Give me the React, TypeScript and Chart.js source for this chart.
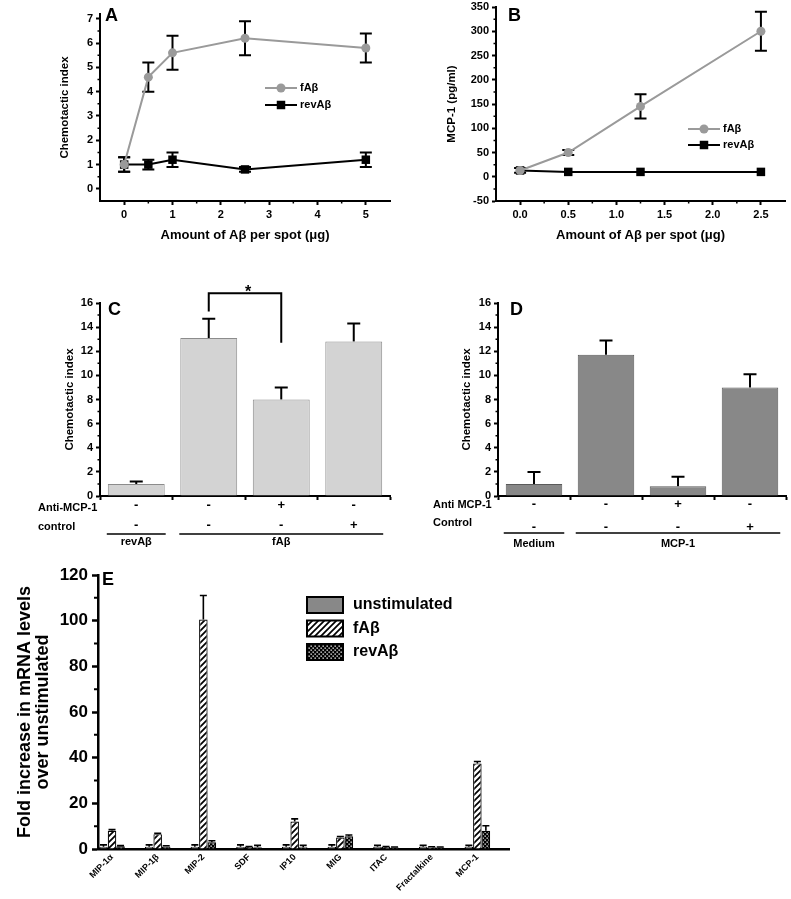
import React, { useEffect, useRef } from 'react';
import { Chart, registerables } from 'chart.js';

Chart.register(...registerables);

const FONT = '"Liberation Sans", Arial, Helvetica, sans-serif';
const f = (size: number, weight: any = 'bold', lineHeight?: number) =>
  lineHeight ? { family: FONT, size, weight, lineHeight } : { family: FONT, size, weight };

// ---------------- Panel A ----------------
const doseA = [0, 0.5, 1, 2.5, 5];
const fAbA = [1.0, 4.6, 5.6, 6.2, 5.8];
const fAbAErr = [0.3, 0.6, 0.7, 0.7, 0.6];
const revA = [1.0, 1.0, 1.2, 0.8, 1.2];
const revAErr = [0.3, 0.2, 0.3, 0.1, 0.3];
const xTicksA = [0, 1, 2, 3, 4, 5];
const xMinorA = [0.5, 1.5, 2.5, 3.5, 4.5];
const yTicksA = [0, 1, 2, 3, 4, 5, 6, 7];
const yMinorA = [0.5, 1.5, 2.5, 3.5, 4.5, 5.5, 6.5];

// ---------------- Panel B ----------------
const doseB = [0, 0.5, 1.25, 2.5];
const fAbB = [13, 50, 145, 300];
const fAbBErr = [5, 5, 25, 40];
const revB = [13, 10, 10, 10];
const revBErr = [0, 0, 0, 0];
const xTicksB = [0, 0.5, 1, 1.5, 2, 2.5];
const xMinorB = [0.25, 0.75, 1.25, 1.75, 2.25];
const yTicksB = [-50, 0, 50, 100, 150, 200, 250, 300, 350];
const yMinorB = [-25, 25, 75, 125, 175, 225, 275, 325];

// ---------------- Panel C ----------------
const catsC = ['revAβ', 'fAβ', 'fAβ + Anti-MCP-1', 'fAβ + control'];
const valuesC = [1.0, 13.1, 8.0, 12.8];
const errC = [0.2, 1.6, 1.0, 1.5];
const antiC = ['-', '-', '+', '-'];
const controlC = ['-', '-', '-', '+'];
const groupsC = [
  { label: 'revAβ', from: 0, to: 0 },
  { label: 'fAβ', from: 1, to: 3 },
];
const sigC = { from: 1, to: 2, top: 16.8, leftEnd: 15.3, rightEnd: 12.7, text: '*' };
const yTicksCD = [0, 2, 4, 6, 8, 10, 12, 14, 16];
const yMinorCD = [1, 3, 5, 7, 9, 11, 13, 15];

// ---------------- Panel D ----------------
const catsD = ['Medium', 'MCP-1', 'MCP-1 + Anti MCP-1', 'MCP-1 + Control'];
const valuesD = [1.0, 11.7, 0.8, 9.0];
const errD = [1.0, 1.2, 0.8, 1.1];
const antiD = ['-', '-', '+', '-'];
const controlD = ['-', '-', '-', '+'];
const groupsD = [
  { label: 'Medium', from: 0, to: 0 },
  { label: 'MCP-1', from: 1, to: 3 },
];

// ---------------- Panel E ----------------
const genesE = ['MIP-1α', 'MIP-1β', 'MIP-2', 'SDF', 'IP10', 'MIG', 'ITAC', 'Fractalkine', 'MCP-1'];
const unstimE = [1, 1, 1, 1, 1, 1, 1, 1, 1];
const unstimErrE = [0.8, 0.8, 0.8, 0.8, 0.8, 0.8, 0.6, 0.6, 0.6];
const fAbE = [8.0, 6.5, 100.5, 0.9, 12.0, 5.0, 0.9, 0.8, 37.5];
const fAbErrE = [0.5, 0.4, 10.5, 0.2, 1.2, 0.5, 0.2, 0.2, 0.8];
const revE = [1.2, 1.1, 3.0, 0.8, 0.8, 5.6, 0.7, 0.7, 8.0];
const revErrE = [0.3, 0.3, 0.6, 0.8, 0.8, 0.5, 0.2, 0.2, 2.2];
const yTicksE = [0, 20, 40, 60, 80, 100, 120];
const yMinorE = [10, 30, 50, 70, 90, 110];

// ---------------- plugins ----------------
function errorBarsPlugin() {
  return {
    id: 'errorBars',
    beforeDatasetsDraw(chart: any) {
      const ctx = chart.ctx;
      chart.data.datasets.forEach((ds: any, di: number) => {
        const errs = ds.errorBars;
        if (!errs) return;
        const meta = chart.getDatasetMeta(di);
        const ys = chart.scales[meta.yAxisID];
        const cap = ds.errorCap || 12;
        ctx.save();
        ctx.strokeStyle = '#000';
        ctx.lineWidth = ds.errorWidth || 2;
        meta.data.forEach((el: any, i: number) => {
          const e = errs[i];
          if (!e) return;
          const raw = ds.data[i];
          const v = typeof raw === 'number' ? raw : raw.y;
          const yTop = ys.getPixelForValue(v + e);
          const yBot = ds.errorMode === 'up' ? ys.getPixelForValue(v) : ys.getPixelForValue(v - e);
          ctx.beginPath();
          ctx.moveTo(el.x, yTop);
          ctx.lineTo(el.x, yBot);
          ctx.moveTo(el.x - cap / 2, yTop);
          ctx.lineTo(el.x + cap / 2, yTop);
          if (ds.errorMode !== 'up') {
            ctx.moveTo(el.x - cap / 2, yBot);
            ctx.lineTo(el.x + cap / 2, yBot);
          }
          ctx.stroke();
        });
        ctx.restore();
      });
    },
  };
}

function minorTicksPlugin(xs: number[], ys: number[], len: number, width: number) {
  return {
    id: 'minorTicks',
    afterDraw(chart: any) {
      const { ctx, chartArea, scales } = chart;
      ctx.save();
      ctx.strokeStyle = '#000';
      ctx.lineWidth = width;
      ctx.beginPath();
      xs.forEach((v) => {
        const px = scales.x.getPixelForValue(v);
        ctx.moveTo(px, chartArea.bottom);
        ctx.lineTo(px, chartArea.bottom + len);
      });
      ys.forEach((v) => {
        const py = scales.y.getPixelForValue(v);
        ctx.moveTo(chartArea.left, py);
        ctx.lineTo(chartArea.left - len, py);
      });
      ctx.stroke();
      ctx.restore();
    },
  };
}

function textPlugin(items: any[]) {
  return {
    id: 'texts',
    afterDraw(chart: any) {
      const ctx = chart.ctx;
      ctx.save();
      ctx.fillStyle = '#000';
      items.forEach((t) => {
        ctx.font = `bold ${t.size}px ${FONT}`;
        ctx.textAlign = t.align || 'left';
        ctx.textBaseline = t.baseline || 'alphabetic';
        ctx.fillText(t.text, t.x, t.y);
      });
      ctx.restore();
    },
  };
}

function lineLegendPlugin(x: number, y: number, dy: number, len: number, size: number) {
  return {
    id: 'lineLegend',
    afterDraw(chart: any) {
      const ctx = chart.ctx;
      ctx.save();
      chart.data.datasets.forEach((ds: any, i: number) => {
        const yc = y + i * dy;
        ctx.strokeStyle = ds.borderColor;
        ctx.lineWidth = ds.borderWidth;
        ctx.beginPath();
        ctx.moveTo(x, yc);
        ctx.lineTo(x + len, yc);
        ctx.stroke();
        ctx.fillStyle = ds.backgroundColor;
        const cx = x + len / 2;
        if (ds.pointStyle === 'rect') {
          const s = ds.pointRadius * Math.SQRT1_2;
          ctx.fillRect(cx - s, yc - s, 2 * s, 2 * s);
        } else {
          ctx.beginPath();
          ctx.arc(cx, yc, ds.pointRadius, 0, Math.PI * 2);
          ctx.fill();
        }
        ctx.fillStyle = '#000';
        ctx.font = `bold ${size}px ${FONT}`;
        ctx.textAlign = 'left';
        ctx.textBaseline = 'middle';
        ctx.fillText(ds.label, x + len + 3, yc);
      });
      ctx.restore();
    },
  };
}

function rowsPlugin(o: any) {
  return {
    id: 'rows',
    afterDraw(chart: any) {
      const ctx = chart.ctx;
      const xs = chart.scales.x;
      const meta = chart.getDatasetMeta(0);
      ctx.save();
      ctx.fillStyle = '#000';
      ctx.textBaseline = 'middle';
      o.rows.forEach((r: any) => {
        ctx.font = `bold ${o.titleSize}px ${FONT}`;
        ctx.textAlign = 'left';
        ctx.fillText(r.title, o.titleX, r.titleY);
        ctx.font = `bold ${o.markSize}px ${FONT}`;
        ctx.textAlign = 'center';
        r.values.forEach((t: string, i: number) => ctx.fillText(t, xs.getPixelForValue(i), r.markY));
      });
      ctx.strokeStyle = '#000';
      ctx.lineWidth = o.lineWidth;
      o.groups.forEach((g: any) => {
        const a = meta.data[g.from];
        const b = meta.data[g.to];
        const x0 = a.x - a.width / 2 - o.ext;
        const x1 = b.x + b.width / 2 + o.ext;
        ctx.beginPath();
        ctx.moveTo(x0, o.lineY);
        ctx.lineTo(x1, o.lineY);
        ctx.stroke();
        ctx.font = `bold ${o.groupSize}px ${FONT}`;
        ctx.textAlign = 'center';
        ctx.fillText(g.label, (x0 + x1) / 2, o.labelY);
      });
      ctx.restore();
    },
  };
}

function sigPlugin(s: any) {
  return {
    id: 'sig',
    afterDraw(chart: any) {
      const ctx = chart.ctx;
      const meta = chart.getDatasetMeta(0);
      const ys = chart.scales.y;
      const xa = meta.data[s.from].x;
      const xb = meta.data[s.to].x;
      const yt = ys.getPixelForValue(s.top);
      ctx.save();
      ctx.strokeStyle = '#000';
      ctx.lineWidth = 2;
      ctx.beginPath();
      ctx.moveTo(xa, ys.getPixelForValue(s.leftEnd));
      ctx.lineTo(xa, yt);
      ctx.lineTo(xb, yt);
      ctx.lineTo(xb, ys.getPixelForValue(s.rightEnd));
      ctx.stroke();
      ctx.fillStyle = '#000';
      ctx.font = `bold 16px ${FONT}`;
      ctx.textAlign = 'center';
      ctx.textBaseline = 'alphabetic';
      ctx.fillText(s.text, (xa + xb) / 2 + 3, yt + 4);
      ctx.restore();
    },
  };
}

function boxLegendPlugin(x: number, y0: number, dy: number, w: number, h: number, textX: number, size: number) {
  return {
    id: 'boxLegend',
    afterDraw(chart: any) {
      const ctx = chart.ctx;
      ctx.save();
      chart.data.datasets.forEach((ds: any, i: number) => {
        const yc = y0 + i * dy;
        ctx.fillStyle = ds.backgroundColor;
        ctx.fillRect(x, yc - h / 2, w, h);
        ctx.strokeStyle = '#000';
        ctx.lineWidth = 2;
        ctx.strokeRect(x, yc - h / 2, w, h);
        ctx.fillStyle = '#000';
        ctx.font = `bold ${size}px ${FONT}`;
        ctx.textAlign = 'left';
        ctx.textBaseline = 'middle';
        ctx.fillText(ds.label, textX, yc);
      });
      ctx.restore();
    },
  };
}

function hatchPattern() {
  const c = document.createElement('canvas');
  c.width = 6;
  c.height = 6;
  const g = c.getContext('2d') as CanvasRenderingContext2D;
  g.fillStyle = '#fff';
  g.fillRect(0, 0, 6, 6);
  g.strokeStyle = '#000';
  g.lineWidth = 1.7;
  g.beginPath();
  g.moveTo(-1, 7);
  g.lineTo(7, -1);
  g.moveTo(-4, 4);
  g.lineTo(4, -4);
  g.moveTo(2, 10);
  g.lineTo(10, 2);
  g.stroke();
  return g.createPattern(c, 'repeat');
}

function dotPattern() {
  const c = document.createElement('canvas');
  c.width = 4;
  c.height = 4;
  const g = c.getContext('2d') as CanvasRenderingContext2D;
  g.fillStyle = '#000';
  g.fillRect(0, 0, 4, 4);
  g.fillStyle = '#fff';
  g.fillRect(0.5, 0.5, 1.3, 1.3);
  g.fillRect(2.5, 2.5, 1.3, 1.3);
  return g.createPattern(c, 'repeat');
}

// ---------------- helpers ----------------
const base = (padding: any) => ({
  responsive: false,
  maintainAspectRatio: false,
  animation: false,
  events: [],
  layout: { padding },
  plugins: { legend: { display: false }, tooltip: { enabled: false } },
});

function yAxis(o: any) {
  return {
    type: 'linear',
    min: o.min,
    max: o.max,
    afterBuildTicks: (s: any) => {
      s.ticks = o.ticks.map((v: number) => ({ value: v }));
    },
    afterFit: (s: any) => {
      s.width = o.width;
    },
    grid: { drawOnChartArea: false, drawTicks: true, tickLength: o.tickLen, tickWidth: o.lineW, tickColor: '#000' },
    border: { display: true, color: '#000', width: o.lineW },
    ticks: { color: '#000', font: f(o.fontSize), padding: o.pad ?? 3 },
    title: {
      display: true,
      text: o.title,
      color: '#000',
      font: o.titleFont,
      padding: { top: o.titlePad, bottom: 0 },
    },
  };
}

function xLinear(o: any) {
  return {
    type: 'linear',
    min: o.min,
    max: o.max,
    afterBuildTicks: (s: any) => {
      s.ticks = o.ticks.map((v: number) => ({ value: v }));
    },
    afterFit: (s: any) => {
      s.height = o.height;
    },
    grid: { drawOnChartArea: false, drawTicks: true, tickLength: 4, tickWidth: 2, tickColor: '#000' },
    border: { display: true, color: '#000', width: 2 },
    ticks: { color: '#000', font: f(11), padding: 3, callback: o.fmt },
    title: { display: true, text: o.title, color: '#000', font: f(13), padding: { top: 0, bottom: 7.2 } },
  };
}

function ChartCanvas({ x, y, w, h, build }: { x: number; y: number; w: number; h: number; build: () => any }) {
  const ref = useRef<HTMLCanvasElement | null>(null);
  useEffect(() => {
    const chart = new Chart(ref.current as HTMLCanvasElement, build());
    return () => chart.destroy();
  }, []);
  return (
    <canvas ref={ref} width={w} height={h} style={{ position: 'absolute', left: x, top: y, width: w, height: h }} />
  );
}

// ---------------- chart builders ----------------
const buildA = () => ({
  type: 'line',
  data: {
    datasets: [
      {
        label: 'fAβ',
        data: doseA.map((x, i) => ({ x, y: fAbA[i] })),
        borderColor: '#9a9a9a',
        backgroundColor: '#9a9a9a',
        borderWidth: 2,
        pointStyle: 'circle',
        pointRadius: 4.5,
        pointBorderWidth: 0,
        tension: 0,
        errorBars: fAbAErr,
        errorCap: 12,
      },
      {
        label: 'revAβ',
        data: doseA.map((x, i) => ({ x, y: revA[i] })),
        borderColor: '#000',
        backgroundColor: '#000',
        borderWidth: 2,
        pointStyle: 'rect',
        pointRadius: 6,
        pointBorderWidth: 0,
        tension: 0,
        errorBars: revAErr,
        errorCap: 12,
      },
    ],
  },
  options: {
    ...base({ left: 0, right: 1, top: 14, bottom: 0 }),
    scales: {
      x: xLinear({ min: -0.5, max: 5.5, ticks: xTicksA, height: 49, title: 'Amount of Aβ per spot (μg)' }),
      y: yAxis({
        min: -0.5,
        max: 7.2,
        ticks: yTicksA,
        width: 100,
        tickLen: 4,
        lineW: 2,
        fontSize: 11,
        title: 'Chemotactic index',
        titleFont: f(11.5),
        titlePad: 58,
      }),
    },
  },
  plugins: [
    errorBarsPlugin(),
    minorTicksPlugin(xMinorA, yMinorA, 2.5, 1.5),
    lineLegendPlugin(265, 88, 17, 32, 11),
    textPlugin([{ text: 'A', x: 105, y: 21, size: 18 }]),
  ],
});

const buildB = () => ({
  type: 'line',
  data: {
    datasets: [
      {
        label: 'fAβ',
        data: doseB.map((x, i) => ({ x, y: fAbB[i] })),
        borderColor: '#9a9a9a',
        backgroundColor: '#9a9a9a',
        borderWidth: 2,
        pointStyle: 'circle',
        pointRadius: 4.5,
        pointBorderWidth: 0,
        tension: 0,
        errorBars: fAbBErr,
        errorCap: 12,
      },
      {
        label: 'revAβ',
        data: doseB.map((x, i) => ({ x, y: revB[i] })),
        borderColor: '#000',
        backgroundColor: '#000',
        borderWidth: 2,
        pointStyle: 'rect',
        pointRadius: 6,
        pointBorderWidth: 0,
        tension: 0,
        errorBars: revBErr,
        errorCap: 12,
      },
    ],
  },
  options: {
    ...base({ left: 0, right: 1, top: 17, bottom: 0 }),
    scales: {
      x: xLinear({
        min: -0.25,
        max: 2.75,
        ticks: xTicksB,
        height: 49,
        title: 'Amount of Aβ per spot (μg)',
        fmt: (v: any) => Number(v).toFixed(1),
      }),
      y: yAxis({
        min: -50,
        max: 350,
        ticks: yTicksB,
        width: 101,
        tickLen: 4,
        lineW: 2,
        fontSize: 11,
        title: 'MCP-1 (pg/ml)',
        titleFont: f(11.5),
        titlePad: 50,
      }),
    },
  },
  plugins: [
    errorBarsPlugin(),
    minorTicksPlugin(xMinorB, yMinorB, 2.5, 1.5),
    lineLegendPlugin(293, 139, 16, 32, 11),
    textPlugin([{ text: 'B', x: 113, y: 31, size: 18 }]),
  ],
});

function buildBars(o: any) {
  return () => ({
    type: 'bar',
    data: {
      labels: o.cats,
      datasets: [
        {
          label: o.label,
          data: o.values,
          backgroundColor: o.fill,
          borderColor: o.stroke,
          borderWidth: 1,
          barPercentage: 0.785,
          categoryPercentage: 1,
          errorBars: o.err,
          errorMode: 'up',
          errorCap: 13,
        },
      ],
    },
    options: {
      ...base({ left: 0, right: 5, top: 33, bottom: 0 }),
      scales: {
        x: {
          type: 'category',
          offset: true,
          afterFit: (s: any) => {
            s.height = 59;
          },
          grid: { offset: true, drawOnChartArea: false, drawTicks: true, tickLength: 4, tickWidth: 2, tickColor: '#000' },
          border: { display: true, color: '#000', width: 2 },
          ticks: { display: false },
        },
        y: yAxis({
          min: 0,
          max: 16,
          ticks: yTicksCD,
          width: o.yWidth,
          tickLen: 4,
          lineW: 2,
          fontSize: 11,
          title: 'Chemotactic index',
          titleFont: f(11.5),
          titlePad: o.titlePad,
        }),
      },
    },
    plugins: [
      errorBarsPlugin(),
      minorTicksPlugin([], yMinorCD, 2.5, 1.5),
      rowsPlugin(o.rows),
      ...(o.sig ? [sigPlugin(o.sig)] : []),
      textPlugin([{ text: o.letter, x: o.letterX, y: 45, size: 18 }]),
    ],
  });
}

const buildC = buildBars({
  cats: catsC,
  label: 'Chemotactic index',
  values: valuesC,
  err: errC,
  fill: '#d3d3d3',
  stroke: '#8c8c8c',
  yWidth: 100,
  titlePad: 63,
  letter: 'C',
  letterX: 108,
  sig: sigC,
  rows: {
    titleX: 38,
    titleSize: 11,
    markSize: 13,
    groupSize: 11,
    lineWidth: 1.5,
    ext: 1,
    rows: [
      { title: 'Anti-MCP-1', titleY: 238, values: antiC, markY: 235 },
      { title: 'control', titleY: 257, values: controlC, markY: 255 },
    ],
    groups: groupsC,
    lineY: 264,
    labelY: 272,
  },
});

const buildD = buildBars({
  cats: catsD,
  label: 'Chemotactic index',
  values: valuesD,
  err: errD,
  fill: '#888888',
  stroke: '#5a5a5a',
  yWidth: 103,
  titlePad: 65,
  letter: 'D',
  letterX: 115,
  sig: null,
  rows: {
    titleX: 38,
    titleSize: 11,
    markSize: 13,
    groupSize: 11,
    lineWidth: 1.5,
    ext: 2,
    rows: [
      { title: 'Anti MCP-1', titleY: 235, values: antiD, markY: 234 },
      { title: 'Control', titleY: 253, values: controlD, markY: 257 },
    ],
    groups: groupsD,
    lineY: 263,
    labelY: 274,
  },
});

const buildE = () => {
  const hatch = hatchPattern();
  const dots = dotPattern();
  const common = {
    borderColor: '#000',
    borderWidth: 1.2,
    barPercentage: 1,
    categoryPercentage: 0.56,
    errorMode: 'up',
    errorCap: 7,
    errorWidth: 1.6,
  };
  const pts = (vals: number[]) => vals.map((y, i) => ({ x: i, y }));
  return {
    type: 'bar',
    data: {
      datasets: [
        { label: 'unstimulated', data: pts(unstimE), backgroundColor: '#888888', errorBars: unstimErrE, ...common },
        { label: 'fAβ', data: pts(fAbE), backgroundColor: hatch, errorBars: fAbErrE, ...common },
        { label: 'revAβ', data: pts(revE), backgroundColor: dots, errorBars: revErrE, ...common },
      ],
    },
    options: {
      ...base({ left: 0, right: 282, top: 20, bottom: 0 }),
      scales: {
        x: {
          type: 'linear',
          offset: false,
          min: -0.307,
          max: 8.693,
          afterBuildTicks: (s: any) => {
            s.ticks = genesE.map((_, i) => ({ value: i }));
          },
          afterFit: (s: any) => {
            s.height = 50;
          },
          grid: { drawOnChartArea: false, drawTicks: false },
          border: { display: true, color: '#000', width: 2.5 },
          ticks: {
            color: '#000',
            font: f(9),
            padding: 3,
            minRotation: 45,
            maxRotation: 45,
            autoSkip: false,
            callback: (v: any) => genesE[Math.round(Number(v))] ?? '',
          },
        },
        y: yAxis({
          min: 0,
          max: 120,
          ticks: yTicksE,
          width: 98,
          tickLen: 6,
          lineW: 2.5,
          fontSize: 17,
          pad: 4,
          title: ['Fold increase in mRNA levels', 'over unstimulated'],
          titleFont: f(18, 'bold', 1.0),
          titlePad: 16,
        }),
      },
    },
    plugins: [
      errorBarsPlugin(),
      minorTicksPlugin([], yMinorE, 4, 2),
      boxLegendPlugin(307, 50, 23.5, 36, 16, 353, 16),
      textPlugin([{ text: 'E', x: 102, y: 30, size: 18 }]),
    ],
  };
};

export default function App() {
  return (
    <div style={{ position: 'absolute', left: 0, top: 0, width: 791, height: 899, overflow: 'hidden', background: '#fff' }}>
      <ChartCanvas x={0} y={0} w={396} h={250} build={buildA} />
      <ChartCanvas x={395} y={-10} w={396} h={260} build={buildB} />
      <ChartCanvas x={0} y={270} w={395} h={285} build={buildC} />
      <ChartCanvas x={395} y={270} w={396} h={285} build={buildD} />
      <ChartCanvas x={0} y={555} w={791} h={344} build={buildE} />
    </div>
  );
}
